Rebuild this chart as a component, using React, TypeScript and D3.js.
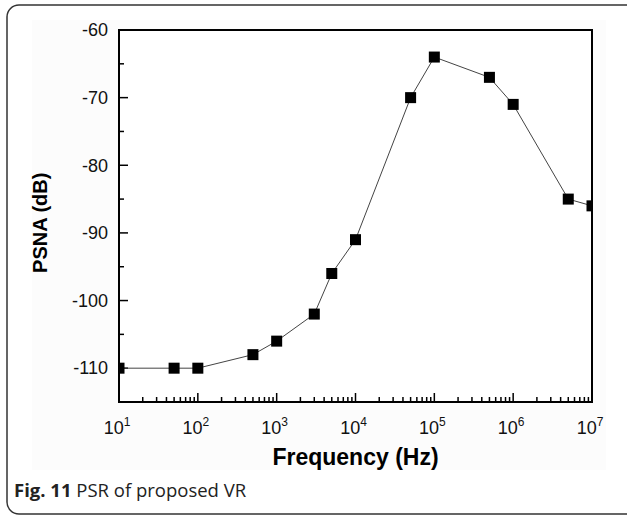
import React, { useEffect, useRef } from 'react';
import * as d3 from 'd3';

// PSR measurement points
const frequencies = [10, 50, 100, 500, 1e3, 3e3, 5e3, 1e4, 5e4, 1e5, 5e5, 1e6, 5e6, 1e7];
const psnaValues = [-110, -110, -110, -108, -106, -102, -96, -91, -70, -64, -67, -71, -85, -86];

const yTicks = [-60, -70, -80, -90, -100, -110];
const xExponents = [1, 2, 3, 4, 5, 6, 7];

const App = () => {
  const svgRef = useRef<SVGSVGElement>(null);

  useEffect(() => {
    const W = 627;
    const H = 518;
    const margin = { top: 30, right: 35, bottom: 116, left: 119 };
    const width = W - margin.left - margin.right;
    const height = H - margin.top - margin.bottom;

    const root = d3.select(svgRef.current);
    root.selectAll('*').remove();
    root.attr('width', W).attr('height', H);

    // outer rounded card
    root.append('rect')
      .attr('x', 7).attr('y', 5)
      .attr('width', W + 10).attr('height', 509)
      .attr('rx', 12)
      .attr('fill', '#ffffff')
      .attr('stroke', '#333')
      .attr('stroke-width', 1.5);

    root.append('rect')
      .attr('x', 32).attr('y', 20)
      .attr('width', 574).attr('height', 450)
      .attr('fill', '#fcfcfc');

    const svg = root.append('g')
      .attr('transform', `translate(${margin.left},${margin.top})`);

    const x = d3.scaleLog().domain([10, 1e7]).range([0, width]);
    const y = d3.scaleLinear().domain([-115, -60]).range([height, 0]);

    svg.append('rect')
      .attr('width', width).attr('height', height)
      .attr('fill', '#fff');

    svg.append('clipPath').attr('id', 'plot-clip')
      .append('rect').attr('width', width).attr('height', height);

    // bottom minor / major ticks (inward)
    const minor: number[] = [];
    for (let e = 1; e < 7; e++) {
      for (let m = 2; m <= 9; m++) minor.push(m * Math.pow(10, e));
    }
    svg.selectAll('.xminor')
      .data(minor)
      .enter().append('line')
      .attr('x1', d => x(d)).attr('x2', d => x(d))
      .attr('y1', height).attr('y2', height - 5)
      .attr('stroke', '#000').attr('stroke-width', 1.5);
    svg.selectAll('.xmajor')
      .data(xExponents)
      .enter().append('line')
      .attr('x1', d => x(Math.pow(10, d))).attr('x2', d => x(Math.pow(10, d)))
      .attr('y1', height).attr('y2', height - 9)
      .attr('stroke', '#000').attr('stroke-width', 1.5);

    // left ticks (inward)
    svg.selectAll('.ymajor')
      .data(yTicks)
      .enter().append('line')
      .attr('x1', 0).attr('x2', 9)
      .attr('y1', d => y(d)).attr('y2', d => y(d))
      .attr('stroke', '#000').attr('stroke-width', 1.5);
    svg.selectAll('.yminor')
      .data(yTicks.map(d => d - 5))
      .enter().append('line')
      .attr('x1', 0).attr('x2', 5)
      .attr('y1', d => y(d)).attr('y2', d => y(d))
      .attr('stroke', '#000').attr('stroke-width', 1.5);

    // y tick labels
    svg.selectAll('.ylab')
      .data(yTicks)
      .enter().append('text')
      .attr('x', -11)
      .attr('y', d => y(d))
      .attr('dy', '0.35em')
      .attr('text-anchor', 'end')
      .attr('fill', '#111')
      .style('font-family', 'Liberation Sans, Arial, sans-serif')
      .style('font-size', '18px')
      .text(d => String(d));

    // x tick labels 10^n
    const xl = svg.selectAll('.xlab')
      .data(xExponents)
      .enter().append('text')
      .attr('x', d => x(Math.pow(10, d)) - 2)
      .attr('y', height + 32)
      .attr('text-anchor', 'middle')
      .attr('fill', '#111')
      .style('font-family', 'Liberation Sans, Arial, sans-serif')
      .style('font-size', '18px');
    xl.append('tspan').text('10');
    xl.append('tspan')
      .attr('dy', -8)
      .style('font-size', '12px')
      .text(d => String(d));

    // data line + markers
    const pts = frequencies.map((f, i) => [f, psnaValues[i]] as [number, number]);
    const plot = svg.append('g').attr('clip-path', 'url(#plot-clip)');
    plot.append('path')
      .datum(pts)
      .attr('fill', 'none')
      .attr('stroke', '#444')
      .attr('stroke-width', 1)
      .attr('d', d3.line<[number, number]>().x(d => x(d[0])).y(d => y(d[1])));
    const s = 11;
    plot.selectAll('.pt')
      .data(pts)
      .enter().append('rect')
      .attr('x', d => x(d[0]) - s / 2)
      .attr('y', d => y(d[1]) - s / 2)
      .attr('width', s).attr('height', s)
      .attr('fill', '#000');

    // frame
    svg.append('rect')
      .attr('width', width).attr('height', height)
      .attr('fill', 'none')
      .attr('stroke', '#000')
      .attr('stroke-width', 2);

    // axis titles
    svg.append('text')
      .attr('x', width / 2)
      .attr('y', height + 63)
      .attr('text-anchor', 'middle')
      .style('font-family', 'Liberation Sans, Arial, sans-serif')
      .style('font-size', '23px')
      .style('font-weight', 'bold')
      .text('Frequency (Hz)');

    svg.append('text')
      .attr('transform', 'rotate(-90)')
      .attr('x', -y(-88.5))
      .attr('y', -72)
      .attr('text-anchor', 'middle')
      .style('font-family', 'Liberation Sans, Arial, sans-serif')
      .style('font-size', '20px')
      .style('font-weight', 'bold')
      .text('PSNA (dB)');

    // caption
    const cap = root.append('text')
      .attr('x', 14)
      .attr('y', 497)
      .style('font-family', 'Open Sans, sans-serif')
      .style('font-size', '18.5px')
      .attr('fill', '#222');
    cap.append('tspan').style('font-weight', 'bold').text('Fig. 11');
    cap.append('tspan').text(' PSR of proposed VR');
  }, []);

  return (
    <div style={{ position: 'absolute', left: 0, top: 0 }}>
      <svg ref={svgRef} style={{ display: 'block' }}></svg>
    </div>
  );
};

export default App;
